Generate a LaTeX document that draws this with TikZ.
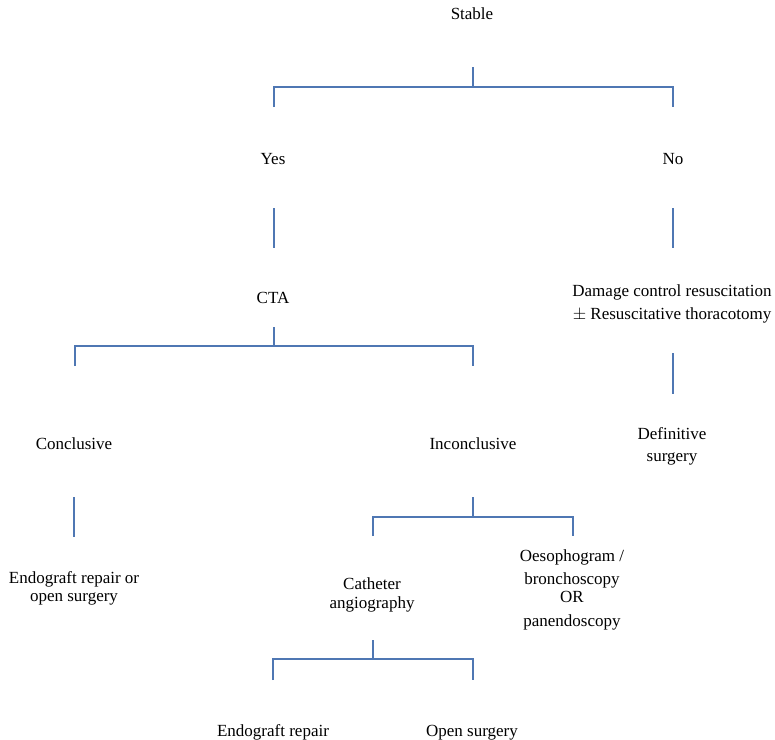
\documentclass[tikz,border=0pt]{standalone}
\usepackage{fontspec}
\setmainfont{Liberation Serif}
\begin{document}
\begin{tikzpicture}[x=1pt,y=-1pt,
  label/.style={inner sep=0pt, align=center, font=\fontsize{17}{22}\selectfont, anchor=base},
  link/.style={draw={rgb,255:red,79;green,119;blue,179}, line width=2pt}]
\useasboundingbox (0,0) rectangle (775,739);

% decision labels (multi-line labels sit on the baseline of their last line)
\node[label] (stable)   at (472,19)  {Stable};
\node[label] (yes)      at (273,164) {Yes};
\node[label] (no)       at (673,164) {No};
\node[label] (cta)      at (273,303) {CTA};
\node[label] (dcr)      at (672,319) {Damage control resuscitation\\[1pt]$\pm$ Resuscitative thoracotomy};
\node[label] (defsurg)  at (672,461) {Definitive\\surgery};
\node[label] (concl)    at (74,449)  {Conclusive};
\node[label] (inconcl)  at (473,449) {Inconclusive};
\node[label] (endoopen) at (74,601)  {Endograft repair or\\[-4pt]open surgery};
\node[label] (cath)     at (372,608) {Catheter\\[-3pt]angiography};
\node[label] (oeso)     at (572,626) {Oesophogram /\\[1pt]bronchoscopy\\[-4pt]OR\\[2pt]panendoscopy};
\node[label] (endo)     at (273,736) {Endograft repair};
\node[label] (open)     at (472,736) {Open surgery};

% bracket ends
\coordinate (s1) at (473,67);  \coordinate (l1) at (274,107); \coordinate (r1) at (673,107);
\coordinate (s2) at (274,327); \coordinate (l2) at (75,366);  \coordinate (r2) at (473,366);
\coordinate (s3) at (473,497); \coordinate (l3) at (373,536); \coordinate (r3) at (573,536);
\coordinate (s4) at (373,640); \coordinate (l4) at (273,680); \coordinate (r4) at (473,680);

% stable -> yes / no
\draw[link] (s1) -- ++(0,20);
\draw[link] (l1) -- ++(0,-20) -| (r1);
% yes -> CTA, no -> resuscitation
\draw[link] (274,208) -- (274,248);
\draw[link] (673,208) -- (673,248);
% CTA -> conclusive / inconclusive
\draw[link] (s2) -- ++(0,19);
\draw[link] (l2) -- ++(0,-20) -| (r2);
% resuscitation -> definitive surgery
\draw[link] (673,353) -- (673,394);
% conclusive -> repair
\draw[link] (74,497) -- (74,537);
% inconclusive -> angiography / endoscopy
\draw[link] (s3) -- ++(0,20);
\draw[link] (l3) -- ++(0,-19) -| (r3);
% angiography -> repair options
\draw[link] (s4) -- ++(0,19);
\draw[link] (l4) -- ++(0,-21) -| (r4);
\end{tikzpicture}
\end{document}
